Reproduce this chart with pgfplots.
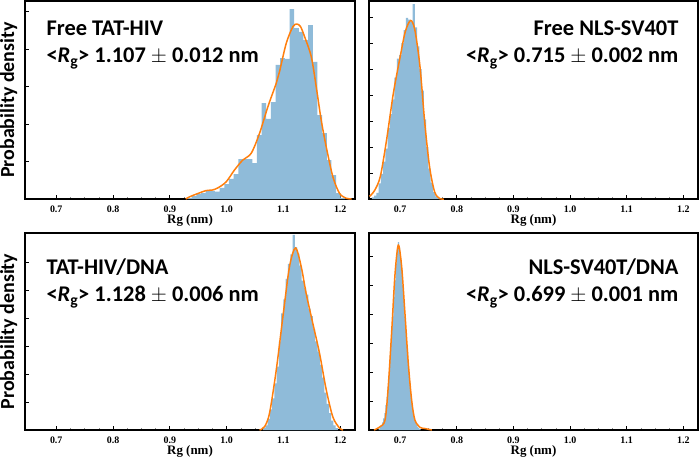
\documentclass[border=0pt]{standalone}
\usepackage{fontspec}
\setmainfont{Carlito}
\newfontfamily\tickfont{Liberation Serif}
\usepackage{pgfplots}
\pgfplotsset{compat=1.18}
\definecolor{barblue}{RGB}{143,187,217}
\definecolor{kdeorange}{RGB}{255,127,14}
\newcommand{\annfont}{\bfseries\fontsize{22.5}{26}\selectfont}
\pgfplotsset{
  panel/.style={
    scale only axis,
    xmin=0.645, xmax=1.226, ymin=0,
    xtick={0.7,0.8,0.9,1.0,1.1,1.2},
    xticklabels={0.7,0.8,0.9,1.0,1.1,1.2},
    minor x tick num=3,
    yticklabels={},
    tick align=inside, xtick pos=left, ytick pos=left,
    major tick length=4bp, minor tick length=2bp,
    tick style={black, line width=0.8bp},
    minor tick style={black!45, line width=0.5bp},
    axis line style={line width=1.6bp},
    xticklabel style={font=\tickfont\bfseries\fontsize{10}{12}\selectfont, anchor=base, yshift=-13bp},
    xlabel={Rg (nm)},
    xlabel style={font=\tickfont\bfseries\fontsize{13}{15}\selectfont, at={(axis description cs:0.5,0)}, anchor=base, yshift=-24.5bp},
    ylabel style={font=\bfseries\fontsize{20}{24}\selectfont, at={(axis description cs:-0.0333,0.5)}, anchor=base},
  },
  bars/.style={ybar interval, fill=barblue, draw=none},
  kde/.style={kdeorange, line width=1.5bp, smooth, tension=0.5, no marks},
}
\begin{document}
\begin{tikzpicture}
\path[use as bounding box] (0,0) rectangle (700bp,-460bp);

% Panel 1: Free TAT-HIV
\begin{axis}[panel, at={(25bp,-1bp)}, anchor=north west, width=330bp, height=198bp,
  ymax=10.56, ytick={2,4,6,8,10}, ylabel={Probability density}]
\addplot[bars] coordinates {
(0.9303,0.05) (0.9385,0.16) (0.9467,0.27) (0.9549,0.32) (0.9631,0.43) (0.9713,0.43)
(0.9795,0.40) (0.9877,0.60) (0.9959,0.80) (1.0041,1.07) (1.0123,1.33) (1.0205,2.13)
(1.0287,2.13) (1.0369,2.13) (1.0451,1.92) (1.0533,3.41) (1.0615,5.12) (1.0697,4.27)
(1.0779,5.17) (1.0861,7.15) (1.0943,7.52) (1.1025,7.47) (1.1107,10.13) (1.1189,9.12)
(1.1271,8.91) (1.1353,8.48) (1.1435,9.28) (1.1517,7.31) (1.1599,4.48) (1.1681,3.52)
(1.1763,2.08) (1.1845,1.28) (1.1927,0.32) (1.2009,0.05) (1.2091,0)
};
\addplot[kde] coordinates {
(0.928,0.0) (0.935,0.12) (0.95,0.3) (0.964,0.45) (0.975,0.48) (0.985,0.6)
(0.9993,0.92) (1.0139,1.55) (1.0285,2.08) (1.0433,2.44) (1.0579,3.5) (1.0726,4.92)
(1.0873,6.17) (1.0931,6.79) (1.1049,8.3) (1.1166,9.19) (1.1236,9.33) (1.13,9.2)
(1.1372,8.66) (1.149,7.59) (1.1577,5.99) (1.1665,4.21) (1.1753,2.79) (1.187,1.19)
(1.1988,0.3) (1.2106,0.04) (1.22,0.0)
};
\node[anchor=base west, font=\annfont] at (rel axis cs:0.0545,0.828) {Free TAT-HIV};
\node[anchor=base west, font=\annfont] at (rel axis cs:0.0545,0.687) {<\textit{R}\textsubscript{g}> 1.107 $\pm$ 0.012 nm};
\end{axis}

% Panel 2: Free NLS-SV40T
\begin{axis}[panel, at={(369bp,-1bp)}, anchor=north west, width=329bp, height=198bp,
  ymax=22.85, ytick={3,6,9,12,15,18,21}]
\addplot[bars] coordinates {
(0.650,0.2) (0.654,0.4) (0.658,0.7) (0.662,1.8) (0.666,2.9) (0.670,4.3) (0.674,5.8)
(0.678,8.2) (0.682,9.8) (0.686,11.5) (0.690,14.0) (0.694,16.2) (0.698,16.6) (0.702,18.0)
(0.706,19.5) (0.710,20.9) (0.714,20.7) (0.718,20.4) (0.722,22.5) (0.726,19.8) (0.730,17.6)
(0.734,15.0) (0.738,12.5) (0.742,9.2) (0.746,6.0) (0.750,3.5) (0.754,1.9) (0.758,0.8)
(0.762,0.3) (0.766,0.1) (0.770,0)
};
\addplot[kde] coordinates {
(0.646,0.3) (0.655,1.0) (0.665,2.6) (0.676,6.8) (0.688,12.2) (0.700,16.4) (0.709,19.3)
(0.7185,20.6) (0.726,19.5) (0.735,15.3) (0.7436,8.7) (0.752,3.7) (0.761,0.8) (0.770,0.05)
(0.777,0.0)
};
\node[anchor=base east, font=\annfont] at (rel axis cs:0.951,0.828) {Free NLS-SV40T};
\node[anchor=base east, font=\annfont] at (rel axis cs:0.951,0.687) {<\textit{R}\textsubscript{g}> 0.715 $\pm$ 0.002 nm};
\end{axis}

% Panel 3: TAT-HIV/DNA
\begin{axis}[panel, at={(25bp,-233bp)}, anchor=north west, width=330bp, height=197bp,
  ymax=21.1, ytick={3,6,9,12,15,18}, ylabel={Probability density}]
\addplot[bars] coordinates {
(1.064,0.2) (1.068,0.5) (1.072,1.2) (1.076,2.2) (1.080,3.4) (1.084,5.0) (1.088,6.8)
(1.092,9.5) (1.096,12.5) (1.100,14.0) (1.104,16.2) (1.108,17.8) (1.112,18.8) (1.116,20.9)
(1.120,19.6) (1.124,18.9) (1.128,17.6) (1.132,16.0) (1.136,15.2) (1.140,14.5) (1.144,13.0)
(1.148,12.2) (1.152,10.8) (1.156,9.5) (1.160,8.4) (1.164,7.0) (1.168,5.6) (1.172,4.0)
(1.176,2.8) (1.180,1.8) (1.184,1.0) (1.188,0.5) (1.192,0.2) (1.196,0)
};
\addplot[kde] coordinates {
(1.058,0.0) (1.0667,0.35) (1.0755,1.8) (1.0873,6.4) (1.099,12.1) (1.1107,17.5)
(1.1213,19.5) (1.1313,17.5) (1.1401,14.6) (1.1518,11.4) (1.1636,8.2) (1.1754,4.3)
(1.187,1.4) (1.1988,0.2) (1.205,0.0)
};
\node[anchor=base west, font=\annfont] at (rel axis cs:0.0545,0.787) {TAT-HIV/DNA};
\node[anchor=base west, font=\annfont] at (rel axis cs:0.0545,0.650) {<\textit{R}\textsubscript{g}> 1.128 $\pm$ 0.006 nm};
\end{axis}

% Panel 4: NLS-SV40T/DNA
\begin{axis}[panel, at={(369bp,-233bp)}, anchor=north west, width=329bp, height=197bp,
  ymax=40.8, ytick={6,12,18,24,30,36}]
\addplot[bars] coordinates {
(0.662,0.3) (0.664,0.6) (0.666,1.0) (0.668,1.6) (0.670,2.4) (0.672,3.5) (0.674,5.2)
(0.676,6.8) (0.678,9.0) (0.680,12.0) (0.682,15.5) (0.684,19.5) (0.686,23.5) (0.688,27.5)
(0.690,31.0) (0.692,34.5) (0.694,37.5) (0.696,38.9) (0.698,37.8) (0.700,35.5) (0.702,33.5)
(0.704,30.0) (0.706,27.0) (0.708,23.5) (0.710,20.0) (0.712,16.5) (0.714,13.0) (0.716,10.0)
(0.718,7.5) (0.720,5.5) (0.722,4.0) (0.724,2.8) (0.726,1.8) (0.728,1.1) (0.730,0.7)
(0.732,0.4) (0.734,0.2) (0.736,0)
};
\addplot[kde] coordinates {
(0.654,0.0) (0.6647,0.7) (0.6734,2.1) (0.679,9.0) (0.6852,20.7) (0.691,32.4) (0.6968,38.3)
(0.7027,33.8) (0.7085,24.1) (0.7144,13.8) (0.7203,6.2) (0.726,2.1) (0.735,0.55)
(0.744,0.3) (0.75,0.15) (0.756,0.0)
};
\node[anchor=base east, font=\annfont] at (rel axis cs:0.951,0.787) {NLS-SV40T/DNA};
\node[anchor=base east, font=\annfont] at (rel axis cs:0.951,0.650) {<\textit{R}\textsubscript{g}> 0.699 $\pm$ 0.001 nm};
\end{axis}
\end{tikzpicture}
\end{document}
